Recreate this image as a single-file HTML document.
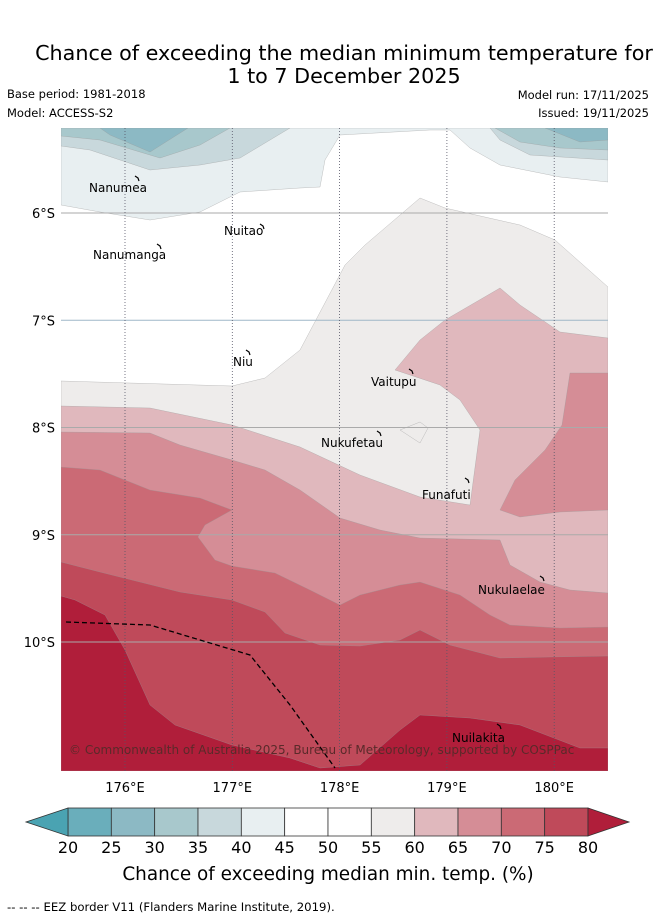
<!DOCTYPE html>
<html><head><meta charset="utf-8"><style>
body{margin:0;background:#fff;font-family:"Liberation Sans","DejaVu Sans",sans-serif}
svg text{font-family:"DejaVu Sans","Liberation Sans",sans-serif}
</style></head><body>
<svg id="s" width="655" height="919" xmlns="http://www.w3.org/2000/svg">
<text x="344" y="60" font-size="20.7" text-anchor="middle">Chance of exceeding the median minimum temperature for</text>
<text x="344" y="83" font-size="20.7" text-anchor="middle">1 to 7 December 2025</text>
<text x="7" y="98" font-size="11.5">Base period: 1981-2018</text>
<text x="7" y="117" font-size="11.5">Model: ACCESS-S2</text>
<text x="649" y="99" font-size="11.5" text-anchor="end">Model run: 17/11/2025</text>
<text x="649" y="117" font-size="11.5" text-anchor="end">Issued: 19/11/2025</text>
<defs><clipPath id="mc"><rect x="61" y="128" width="547" height="643"/></clipPath></defs>
<g id="map" clip-path="url(#mc)"><rect x="61" y="128" width="547" height="643" fill="#fff"/></g>
<g id="ov"></g>
<g id="cb"></g>
<text x="328" y="880" font-size="18.4" text-anchor="middle">Chance of exceeding median min. temp. (%)</text>
<text x="7" y="911" font-size="11.7">-- --  -- EEZ border V11 (Flanders Marine Institute, 2019).</text>
</svg>
<script>
const NS="http://www.w3.org/2000/svg";
const lonTicks=[176,177,178,179,180];
const latTicks=[6,7,8,9,10];
const cbLevels=[20,25,30,35,40,45,50,55,60,65,70,75,80];
const cbColors=["#6aaebb","#8cb9c4","#a8c8cc","#c8d8dc","#e8eff1","#ffffff","#ffffff","#eeeceb","#e0b8bd","#d58d96","#cb6a75","#bf4a5a"];
const px2=(x,y)=>[176+(x-125)/107.3,6+(y-213)/107.25];
const X=lon=>125+(lon-176)*107.3, Y=lat=>213+(lat-6)*107.25;
function P(pts){return pts.map(p=>px2(p[0],p[1]));}
const regions=[
 {c:"#eeeceb",n:"region-55-60",pts:P([[61,381],[232,386],[265,378],[300,350],[345,265],[365,245],[420,198],[445,208],[520,225],[555,240],[608,287],[608,771],[61,771]])},
 {c:"#e0b8bd",n:"region-60-65",pts:P([[61,406],[150,408],[232,425],[300,447],[360,475],[420,497],[470,505],[480,430],[460,400],[440,385],[395,370],[420,340],[445,320],[500,288],[520,305],[560,332],[608,338],[608,771],[61,771]])},
 {c:"#eeeceb",n:"hole-55-60",pts:P([[400,430],[420,422],[428,428],[420,443]])},
 {c:"#d58d96",n:"region-65-70",pts:P([[61,432],[150,433],[180,445],[232,460],[265,470],[300,490],[340,518],[380,530],[420,538],[500,540],[510,565],[540,582],[570,590],[608,593],[608,771],[61,771]])},
 {c:"#d58d96",n:"region-65-70-blob",pts:P([[570,373],[608,373],[608,510],[560,512],[520,517],[500,510],[515,480],[545,450],[562,425]])},
 {c:"#cb6a75",n:"region-70-75",pts:P([[61,467],[100,470],[150,490],[200,498],[232,510],[205,525],[198,537],[215,560],[232,566],[275,573],[310,590],[340,605],[360,595],[400,585],[420,582],[460,595],[490,615],[510,625],[560,628],[608,627],[608,771],[61,771]])},
 {c:"#bf4a5a",n:"region-75-80",pts:P([[61,562],[100,572],[180,592],[232,600],[265,612],[285,633],[320,645],[360,646],[400,640],[420,630],[450,645],[500,658],[550,657],[608,656],[608,771],[61,771]])},
 {c:"#b01e3a",n:"region-above-80",pts:P([[61,596],[75,600],[105,615],[125,650],[150,705],[175,725],[232,745],[290,758],[320,768],[360,765],[400,730],[420,715],[470,718],[520,725],[580,748],[608,748],[608,771],[61,771]])},
 {c:"#e8eff1",n:"region-40-45",pts:P([[61,128],[608,128],[608,182],[560,177],[500,165],[470,148],[450,130],[430,130],[340,135],[325,160],[320,187],[300,188],[240,192],[200,212],[150,220],[100,212],[61,205]])},
 {c:"#c8d8dc",n:"region-35-40-left",pts:P([[61,128],[290,128],[270,140],[240,158],[200,165],[150,170],[90,150],[61,146]])},
 {c:"#c8d8dc",n:"region-35-40-right",pts:P([[490,128],[608,128],[608,160],[530,155],[500,140]])},
 {c:"#a8c8cc",n:"region-30-35-left",pts:P([[61,128],[230,128],[200,145],[160,158],[100,140],[61,136]])},
 {c:"#a8c8cc",n:"region-30-35-right",pts:P([[495,128],[608,128],[608,150],[560,148],[520,142]])},
 {c:"#8cb9c4",n:"region-25-30-left",pts:P([[100,128],[188,128],[150,152],[110,135]])},
 {c:"#8cb9c4",n:"region-25-30-right",pts:P([[545,128],[608,128],[608,140],[580,142]])}
];
const eez=P([[66,622],[150,625],[200,640],[250,655],[290,705],[335,768]]);
const islands=[["Nanumea",89,192,138,178],["Nuitao",224,235,263,226],["Nanumanga",93,259,160,246],["Niu",233,366,249,352],["Vaitupu",371,386,412,371],["Nukufetau",321,447,380,433],["Funafuti",422,499,468,480],["Nukulaelae",478,594,543,578],["Nuilakita",452,742,500,726]];
function el(t,a,p){const e=document.createElementNS(NS,t);for(const k in a)e.setAttribute(k,a[k]);p.appendChild(e);return e;}
const map=document.getElementById('map');
regions.forEach(r=>{
 const e=el('path',{d:'M'+r.pts.map(p=>X(p[0]).toFixed(1)+','+Y(p[1]).toFixed(1)).join('L')+'Z',fill:r.c,stroke:'#999','stroke-width':0.3},map);
 
 
});
latTicks.forEach(l=>{const e=el('line',{x1:61,x2:608,y1:Y(l),y2:Y(l),stroke:l==7?'#9fb7c8':'#aaa','stroke-width':1},map);
 
 });
lonTicks.forEach(l=>{const e=el('line',{x1:X(l),x2:X(l),y1:128,y2:771,stroke:'#556','stroke-width':0.8,'stroke-dasharray':'1,2'},map);
 
 });
const ez=el('path',{d:'M'+eez.map(p=>X(p[0])+','+Y(p[1])).join('L'),fill:'none',stroke:'#000','stroke-width':1.3,'stroke-dasharray':'5,3'},map);


islands.forEach(i=>{
 const t=el('text',{x:i[1],y:i[2],'font-size':12},map);t.textContent=i[0];
 
 
 const m=el('path',{d:`M${i[3]-3},${i[4]-2}l3,2l1,3`,stroke:'#000',fill:'none','stroke-width':1.2},map);
 
 
});
const cr=el('text',{x:69,y:754,'font-size':12,fill:'#5a2a2a'},map);cr.textContent="© Commonwealth of Australia 2025, Bureau of Meteorology, supported by COSPPac";


const ov=document.getElementById('ov');
lonTicks.forEach(l=>{const t=el('text',{x:X(l),y:792,'font-size':13,'text-anchor':'middle'},ov);t.textContent=l+'°E';
 
 });
latTicks.forEach(l=>{const t=el('text',{x:55,y:Y(l)+5,'font-size':13,'text-anchor':'end'},ov);t.textContent=l+'°S';
 
 });
const cb=document.getElementById('cb');
const cx=v=>68+(v-20)*(520/60);
cbColors.forEach((c,i)=>{const r=el('rect',{x:cx(cbLevels[i]),y:808,width:cx(cbLevels[i+1])-cx(cbLevels[i]),height:28,fill:c,stroke:'#333','stroke-width':0.8},cb);
 
 });
const la=el('path',{d:'M68,808L26,822L68,836Z',fill:'#4aa3b2',stroke:'#333','stroke-width':0.8},cb);


const ra=el('path',{d:'M588,808L629,822L588,836Z',fill:'#b01e3a',stroke:'#333','stroke-width':0.8},cb);


cbLevels.forEach(v=>{const t=el('text',{x:cx(v),y:853,'font-size':16,'text-anchor':'middle'},cb);t.textContent=v;
 
 });
</script>
</body></html>
